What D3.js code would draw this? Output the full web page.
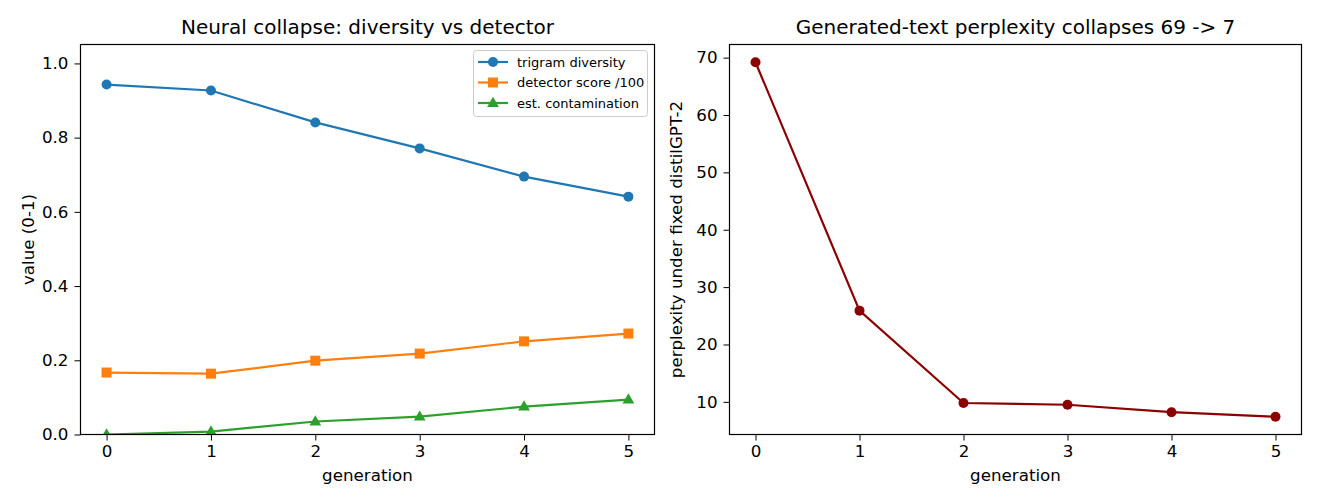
<!DOCTYPE html>
<html>
<head>
<meta charset="utf-8">
<script src="https://cdn.jsdelivr.net/npm/d3@7"></script>
<style>
  body { margin: 0; background: #fff; }
  svg text { font-family: "DejaVu Sans", sans-serif; fill: #000; }
</style>
</head>
<body>
<div id="chart"></div>
<script>
// data
var generations = [0, 1, 2, 3, 4, 5];
var trigramDiversity = [0.943, 0.927, 0.841, 0.771, 0.695, 0.641];
var detectorScore = [0.167, 0.164, 0.199, 0.218, 0.251, 0.272];
var contamination = [0.0, 0.008, 0.035, 0.048, 0.075, 0.094];
var perplexity = [69.2, 25.9, 9.8, 9.5, 8.2, 7.4];
var leftTicks = [0.0, 0.2, 0.4, 0.6, 0.8, 1.0];
var rightTicks = [10, 20, 30, 40, 50, 60, 70];

var series = [
  {name: "trigram diversity", values: trigramDiversity, color: "#1f77b4", marker: "circle"},
  {name: "detector score /100", values: detectorScore, color: "#ff7f0e", marker: "square"},
  {name: "est. contamination", values: contamination, color: "#2ca02c", marker: "triangle"}
];

var width = 1320, height = 504;
var svg = d3.select("#chart").append("svg")
    .attr("width", width)
    .attr("height", height);

function padExtent(lo, hi) {
    var m = (hi - lo) * 0.05;
    return [lo - m, hi + m];
}

function drawMarker(g, type, cx, cy, color) {
    if (type == "circle") {
        g.append("circle").attr("cx", cx).attr("cy", cy).attr("r", 5).attr("fill", color);
    } else if (type == "square") {
        g.append("rect").attr("x", cx - 5).attr("y", cy - 5).attr("width", 10).attr("height", 10).attr("fill", color);
    } else {
        g.append("path")
            .attr("d", d3.symbol().type(d3.symbolTriangle).size(60)())
            .attr("transform", "translate(" + cx + "," + (cy + 0.5) + ")")
            .attr("fill", color);
    }
}

function makePanel(box, yDomain, yTicks, yFmt, title, ylabel, ylabelOffset) {
    var g = svg.append("g");
    var x = d3.scaleLinear().domain(padExtent(0, 5)).range([box.left, box.right]);
    var y = d3.scaleLinear().domain(yDomain).range([box.bottom, box.top]);

    g.append("g")
        .attr("transform", "translate(0," + box.bottom + ")")
        .call(d3.axisBottom(x).tickValues(generations).tickFormat(d3.format("d")).tickSize(6).tickPadding(5))
        .call(function(a) { a.select(".domain").remove(); })
        .selectAll("text").style("font-size", "16.7px");

    g.append("g")
        .attr("transform", "translate(" + box.left + ",0)")
        .call(d3.axisLeft(y).tickValues(yTicks).tickFormat(yFmt).tickSize(6).tickPadding(6))
        .call(function(a) { a.select(".domain").remove(); })
        .selectAll("text").style("font-size", "16.7px");

    g.append("text")
        .attr("x", (box.left + box.right) / 2)
        .attr("y", 34)
        .attr("text-anchor", "middle")
        .style("font-size", "20px")
        .text(title);

    g.append("text")
        .attr("x", (box.left + box.right) / 2)
        .attr("y", 481)
        .attr("text-anchor", "middle")
        .style("font-size", "16.7px")
        .text("generation");

    g.append("text")
        .attr("transform", "translate(" + (box.left - ylabelOffset) + "," + ((box.top + box.bottom) / 2) + ") rotate(-90)")
        .attr("text-anchor", "middle")
        .style("font-size", "16.7px")
        .text(ylabel);

    return {g: g, x: x, y: y};
}

function frame(box) {
    svg.append("rect")
        .attr("x", box.left).attr("y", box.top)
        .attr("width", box.right - box.left).attr("height", box.bottom - box.top)
        .attr("fill", "none").attr("stroke", "#000").attr("stroke-width", 1.2);
}

// left panel
var leftBox = {left: 80.5, right: 654.5, top: 44.5, bottom: 434.5};
var left = makePanel(leftBox, [0, 1.051], leftTicks, d3.format(".1f"),
    "Neural collapse: diversity vs detector", "value (0-1)", 47);

svg.append("clipPath").attr("id", "clipL").append("rect")
    .attr("x", leftBox.left).attr("y", leftBox.top)
    .attr("width", leftBox.right - leftBox.left).attr("height", leftBox.bottom - leftBox.top);

var plotL = left.g.append("g").attr("clip-path", "url(#clipL)");
series.forEach(function(s) {
    var line = d3.line().x(function(d, i) { return left.x(generations[i]); }).y(function(d) { return left.y(d); });
    plotL.append("path").datum(s.values)
        .attr("d", line).attr("fill", "none").attr("stroke", s.color).attr("stroke-width", 2.2);
    s.values.forEach(function(v, i) {
        drawMarker(plotL, s.marker, left.x(generations[i]), left.y(v), s.color);
    });
});
frame(leftBox);

// legend
var leg = svg.append("g");
leg.append("rect")
    .attr("x", 473.5).attr("y", 50.5).attr("width", 174).attr("height", 66).attr("rx", 3)
    .attr("fill", "#fff").attr("fill-opacity", 0.8).attr("stroke", "#ccc");
series.forEach(function(s, i) {
    var ly = 62 + i * 20.5;
    leg.append("line").attr("x1", 478).attr("x2", 508).attr("y1", ly).attr("y2", ly)
        .attr("stroke", s.color).attr("stroke-width", 2.2);
    drawMarker(leg, s.marker, 493, ly, s.color);
    leg.append("text").attr("x", 517).attr("y", ly + 4.5).style("font-size", "13px").text(s.name);
});

// right panel
var rightBox = {left: 729.5, right: 1301.5, top: 44.5, bottom: 434.5};
var pMin = d3.min(perplexity), pMax = d3.max(perplexity);
var right = makePanel(rightBox, padExtent(pMin, pMax), rightTicks, d3.format("d"),
    "Generated-text perplexity collapses 69 -> 7", "perplexity under fixed distilGPT-2", 48);

var lineR = d3.line().x(function(d, i) { return right.x(generations[i]); }).y(function(d) { return right.y(d); });
right.g.append("path").datum(perplexity)
    .attr("d", lineR).attr("fill", "none").attr("stroke", "#8b0000").attr("stroke-width", 2.2);
perplexity.forEach(function(v, i) {
    drawMarker(right.g, "circle", right.x(generations[i]), right.y(v), "#8b0000");
});
frame(rightBox);
</script>
</body>
</html>
